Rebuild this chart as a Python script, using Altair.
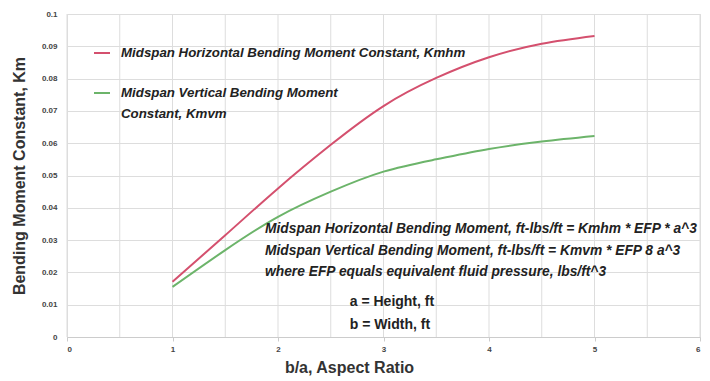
import altair as alt
import pandas as pd

# ---- data ----
aspect_ratio = [1, 1.5, 2, 2.5, 3, 3.5, 4, 4.5, 5]
kmhm = [0.0171, 0.0315, 0.0460, 0.0595, 0.0715, 0.0802, 0.0866, 0.0908, 0.0932]
kmvm = [0.0155, 0.0269, 0.0372, 0.0450, 0.0512, 0.0550, 0.0582, 0.0605, 0.0622]
series_names = ["Midspan Horizontal Bending Moment Constant, Kmhm",
                "Midspan Vertical Bending Moment Constant, Kmvm"]
series_colors = ["#d4506e", "#6cb46a"]

note_lines = [
    "Midspan Horizontal Bending Moment, ft-lbs/ft = Kmhm * EFP * a^3",
    "Midspan Vertical Bending Moment, ft-lbs/ft = Kmvm * EFP 8 a^3",
    "where EFP equals equivalent fluid pressure, lbs/ft^3",
]
note_x = [1.877, 1.877, 1.877]
note_y = [0.0334, 0.0267, 0.0201]
def_lines = ["a = Height, ft", "b = Width, ft"]
def_x = [2.68, 2.68]
def_y = [0.0108, 0.0037]

x_ticks = [0, 1, 2, 3, 4, 5, 6]
x_grid = [0, 0.5, 1, 1.5, 2, 2.5, 3, 3.5, 4, 4.5, 5, 5.5, 6]
y_ticks = [0, 0.01, 0.02, 0.03, 0.04, 0.05, 0.06, 0.07, 0.08, 0.09, 0.1]

FONT = "Liberation Sans"

rows = []
for name, vals in zip(series_names, [kmhm, kmvm]):
    for xv, yv in zip(aspect_ratio, vals):
        rows.append({"ratio": xv, "value": yv, "series": name})
df = pd.DataFrame(rows)

xscale = alt.Scale(domain=[0, 6], nice=False)
yscale = alt.Scale(domain=[0, 0.1], nice=False)

x_axis = alt.Axis(values=x_ticks, title="b/a, Aspect Ratio", grid=False,
                  format="d", labelOverlap=False,
                  labelFont=FONT, labelFontSize=8, labelFontWeight="bold",
                  labelColor="#444444", titleFont=FONT, titleFontSize=16,
                  titleFontWeight="bold", titleColor="#333333",
                  titleX=282, titleAlign="center",
                  titlePadding=6, domainColor="#cccccc", tickColor="#cccccc",
                  tickSize=4, labelPadding=4)
y_axis = alt.Axis(values=y_ticks, title="Bending Moment Constant, Km",
                  grid=True, gridColor="#dddddd", format="~g",
                  labelOverlap=False, tickCount=11,
                  labelFont=FONT, labelFontSize=8, labelFontWeight="bold",
                  labelColor="#444444", titleFont=FONT, titleFontSize=16,
                  titleFontWeight="bold", titleColor="#333333",
                  titlePadding=14, domain=False, ticks=False, labelPadding=10)

grid_x = alt.Chart(pd.DataFrame({"g": x_grid})).mark_rule(
    color="#dddddd", strokeWidth=1
).encode(x=alt.X("g:Q", scale=xscale, axis=x_axis))

lines = alt.Chart(df).mark_line(strokeWidth=2, interpolate="natural").encode(
    x=alt.X("ratio:Q", scale=xscale, axis=x_axis),
    y=alt.Y("value:Q", scale=yscale, axis=y_axis),
    color=alt.Color("series:N",
                    scale=alt.Scale(domain=series_names, range=series_colors),
                    legend=alt.Legend(
                        title=None, orient="none", legendX=26, legendY=30,
                        symbolType="stroke", symbolSize=256, symbolStrokeWidth=2,
                        labelFont=FONT, labelFontSize=13.3, labelFontWeight="bold",
                        labelFontStyle="italic", labelColor="#222222", labelLimit=500,
                        labelExpr="datum.label == 'Midspan Vertical Bending Moment Constant, Kmvm' ? ['Midspan Vertical Bending Moment', 'Constant, Kmvm'] : datum.label",
                        rowPadding=24, padding=0, labelOffset=10,
                    )),
)

notes = alt.Chart(pd.DataFrame({"x": note_x, "y": note_y, "t": note_lines})).mark_text(
    align="left", baseline="middle", font=FONT, fontSize=13.8, fontWeight="bold",
    fontStyle="italic", color="#222222"
).encode(x=alt.X("x:Q", scale=xscale, axis=x_axis),
         y=alt.Y("y:Q", scale=yscale, axis=y_axis), text="t:N")

defs = alt.Chart(pd.DataFrame({"x": def_x, "y": def_y, "t": def_lines})).mark_text(
    align="left", baseline="middle", font=FONT, fontSize=14, fontWeight="bold",
    color="#222222"
).encode(x=alt.X("x:Q", scale=xscale, axis=x_axis),
         y=alt.Y("y:Q", scale=yscale, axis=y_axis), text="t:N")

chart = alt.layer(grid_x, lines, notes, defs).properties(
    width=633, height=323,
    autosize=alt.AutoSizeParams(type="none"),
    padding={"left": 67, "top": 14, "right": 10, "bottom": 44},
).configure_view(stroke=None).configure(
    background="white", style={"guide-label": {"lineHeight": 21}}
)

chart.save("out.html", embed_options={"renderer": "svg", "actions": False})
